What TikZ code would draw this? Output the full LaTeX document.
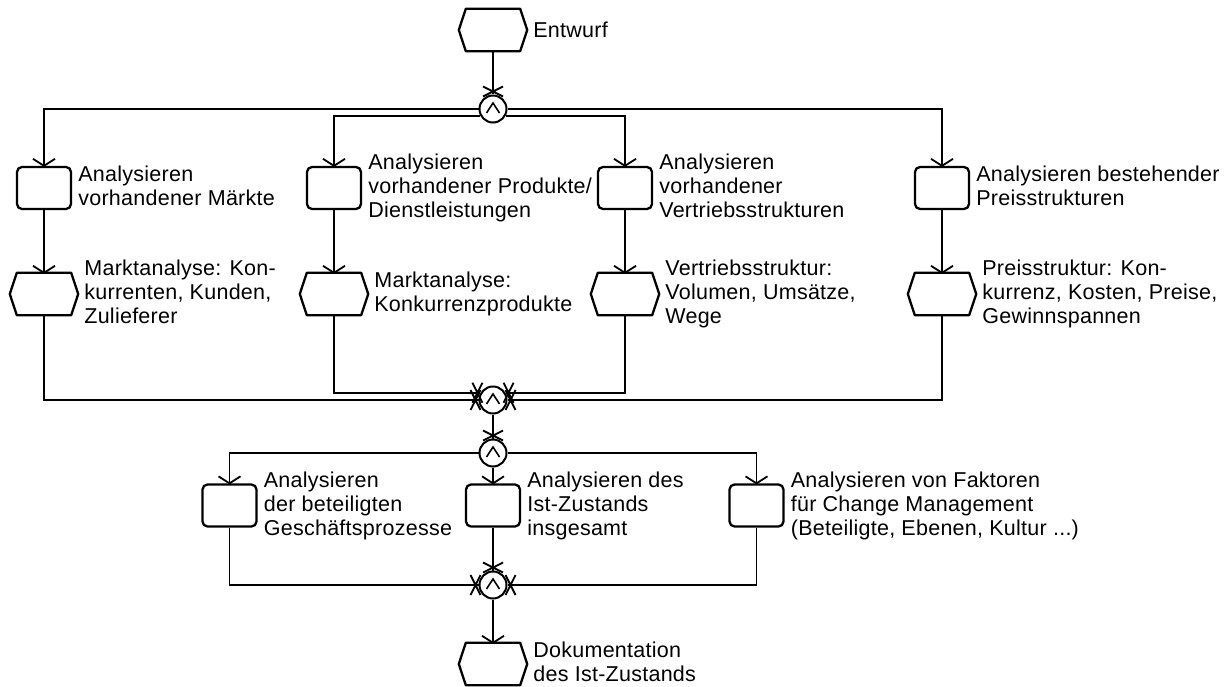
\documentclass[tikz,border=0pt]{standalone}
\usepackage{fontspec}
\setmainfont[LetterSpace=1.2]{Liberation Sans}
\usetikzlibrary{arrows.meta}

% open V tip used for arrows into functions and events
\pgfdeclarearrow{
  name = BarbV,
  parameters = {\the\pgfarrowlength,\the\pgfarrowwidth},
  setup code = {
    \pgfarrowssettipend{0pt}
    \pgfarrowssetlineend{0pt}
    \pgfarrowssetbackend{-\pgfarrowlength}
    \pgfarrowssavethe\pgfarrowlength
    \pgfarrowssavethe\pgfarrowwidth
  },
  drawing code = {
    \pgfsetdash{}{0pt}
    \pgfsetroundjoin
    \pgfpathmoveto{\pgfqpoint{-\pgfarrowlength}{.5\pgfarrowwidth}}
    \pgfpathlineto{\pgfqpoint{0pt}{0pt}}
    \pgfpathlineto{\pgfqpoint{-\pgfarrowlength}{-.5\pgfarrowwidth}}
    \pgfusepathqstroke
  },
  defaults = {length = 7pt, width = 22pt}
}

% crossed tip used for arrows into the logical connectors
\pgfdeclarearrow{
  name = CrossX,
  parameters = {\the\pgfarrowlength,\the\pgfarrowwidth},
  setup code = {
    \pgfarrowssettipend{0pt}
    \pgfarrowssetlineend{0pt}
    \pgfarrowssetbackend{-\pgfarrowlength}
    \pgfarrowssavethe\pgfarrowlength
    \pgfarrowssavethe\pgfarrowwidth
  },
  drawing code = {
    \pgfsetdash{}{0pt}
    \pgfpathmoveto{\pgfqpoint{-\pgfarrowlength}{.5\pgfarrowwidth}}
    \pgfpathlineto{\pgfqpoint{2pt}{-.5\pgfarrowwidth}}
    \pgfpathmoveto{\pgfqpoint{-\pgfarrowlength}{-.5\pgfarrowwidth}}
    \pgfpathlineto{\pgfqpoint{2pt}{.5\pgfarrowwidth}}
    \pgfusepathqstroke
  },
  defaults = {length = 8pt, width = 20pt}
}

\newcommand\lstrut{\rule[-4pt]{0pt}{24pt}}

% hexagonal event outline drawn around an invisible node
\newcommand\evshape[1]{%
  \draw[line width=2.3pt, line join=round]
    (#1.west) -- ([xshift=7pt]#1.north west) -- ([xshift=-7pt]#1.north east)
    -- (#1.east) -- ([xshift=-7pt]#1.south east) -- ([xshift=7pt]#1.south west) -- cycle;}

\tikzset{
  conn/.style={line width=1.8pt},
  into/.style={conn, -{BarbV}},
  intoc/.style={conn, -{CrossX}},
  func/.style={draw, line width=2.3pt, rounded corners=5pt, minimum width=54pt,
    minimum height=42pt, inner sep=0pt},
  evt/.style={minimum width=68pt, minimum height=42pt, inner sep=0pt},
  conj/.style={circle, draw, fill=white, line width=2pt, minimum size=27pt, inner sep=0pt,
    path picture={\draw[line width=1.6pt, line join=miter]
      ([shift={(-6.5pt,-4pt)}]path picture bounding box.center) -- ++(6.5pt,10pt) -- ++(6.5pt,-10pt);}},
  lbl/.style={anchor=west, align=left, inner sep=0pt, font=\fontsize{21.5}{24}\selectfont,
    execute at begin node=\lstrut, execute at end node=\lstrut},
}

\begin{document}
\begin{tikzpicture}[x=1pt,y=-1pt]
\useasboundingbox (0,0) rectangle (1231,687);

% shapes
\node[evt] (e0) at (493,30) {};
\node[conj] (s1) at (493,109) {};
\node[func] (f1) at (44,188) {};
\node[func] (f2) at (334,188) {};
\node[func] (f3) at (625,188) {};
\node[func] (f4) at (942,188) {};
\node[evt] (e1) at (44,294) {};
\node[evt] (e2) at (334,294) {};
\node[evt] (e3) at (625,294) {};
\node[evt] (e4) at (942,294) {};
\node[conj] (j1) at (493,400) {};
\node[conj] (s2) at (493,453) {};
\node[func] (g1) at (229.5,505.5) {};
\node[func] (g2) at (493,505.5) {};
\node[func] (g3) at (756.5,505.5) {};
\node[conj] (j2) at (493,585) {};
\node[evt] (e5) at (493,664) {};

\foreach \n in {e0,e1,e2,e3,e4,e5} {\evshape{\n}}

% texts
\node[lbl] (te0) at ([xshift=6pt]e0.east) {Entwurf};
\node[lbl] (tf1) at ([xshift=6pt]f1.east) {Analysieren\\vorhandener Märkte};
\node[lbl] (tf2) at ([xshift=6pt]f2.east) {Analysieren\\vorhandener Produkte/\\Dienstleistungen};
\node[lbl] (tf3) at ([xshift=6pt]f3.east) {Analysieren\\vorhandener\\Vertriebsstrukturen};
\node[lbl] (tf4) at ([xshift=6pt]f4.east) {Analysieren bestehender\\Preisstrukturen};
\node[lbl] (te1) at ([xshift=6pt]e1.east) {Marktanalyse: Kon-\\kurrenten, Kunden,\\Zulieferer};
\node[lbl] (te2) at ([xshift=6pt]e2.east) {Marktanalyse:\\Konkurrenzprodukte};
\node[lbl] (te3) at ([xshift=6pt]e3.east) {Vertriebsstruktur:\\Volumen, Umsätze,\\Wege};
\node[lbl] (te4) at ([xshift=6pt]e4.east) {Preisstruktur: Kon-\\kurrenz, Kosten, Preise,\\Gewinnspannen};
\node[lbl] (tg1) at ([xshift=6pt]g1.east) {Analysieren\\der beteiligten\\Geschäftsprozesse};
\node[lbl] (tg2) at ([xshift=6pt]g2.east) {Analysieren des\\Ist-Zustands\\insgesamt};
\node[lbl] (tg3) at ([xshift=6pt]g3.east) {Analysieren von Faktoren\\für Change Management\\(Beteiligte, Ebenen, Kultur ...)};
\node[lbl] (te5) at ([xshift=6pt]e5.east) {Dokumentation\\des Ist-Zustands};

% control flow
\draw[intoc] (e0) -- (s1);
\draw[into] (s1.west) -| (f1);
\draw[into] (s1.210) -| (f2);
\draw[into] (s1.-30) -| (f3);
\draw[into] (s1.east) -| (f4);
\draw[into] (f1) -- (e1);
\draw[into] (f2) -- (e2);
\draw[into] (f3) -- (e3);
\draw[into] (f4) -- (e4);
\draw[intoc] (e1.south) |- (j1.west);
\draw[intoc] (e2.south) |- (j1.150);
\draw[intoc] (e3.south) |- (j1.30);
\draw[intoc] (e4.south) |- (j1.east);
\draw[intoc] (j1) -- (s2);
\draw[into] (s2.west) -| (g1);
\draw[into] (s2) -- (g2);
\draw[into] (s2.east) -| (g3);
\draw[intoc] (g1.south) |- (j2.west);
\draw[intoc] (g2) -- (j2);
\draw[intoc] (g3.south) |- (j2.east);
\draw[into] (j2) -- (e5);
\end{tikzpicture}
\end{document}
